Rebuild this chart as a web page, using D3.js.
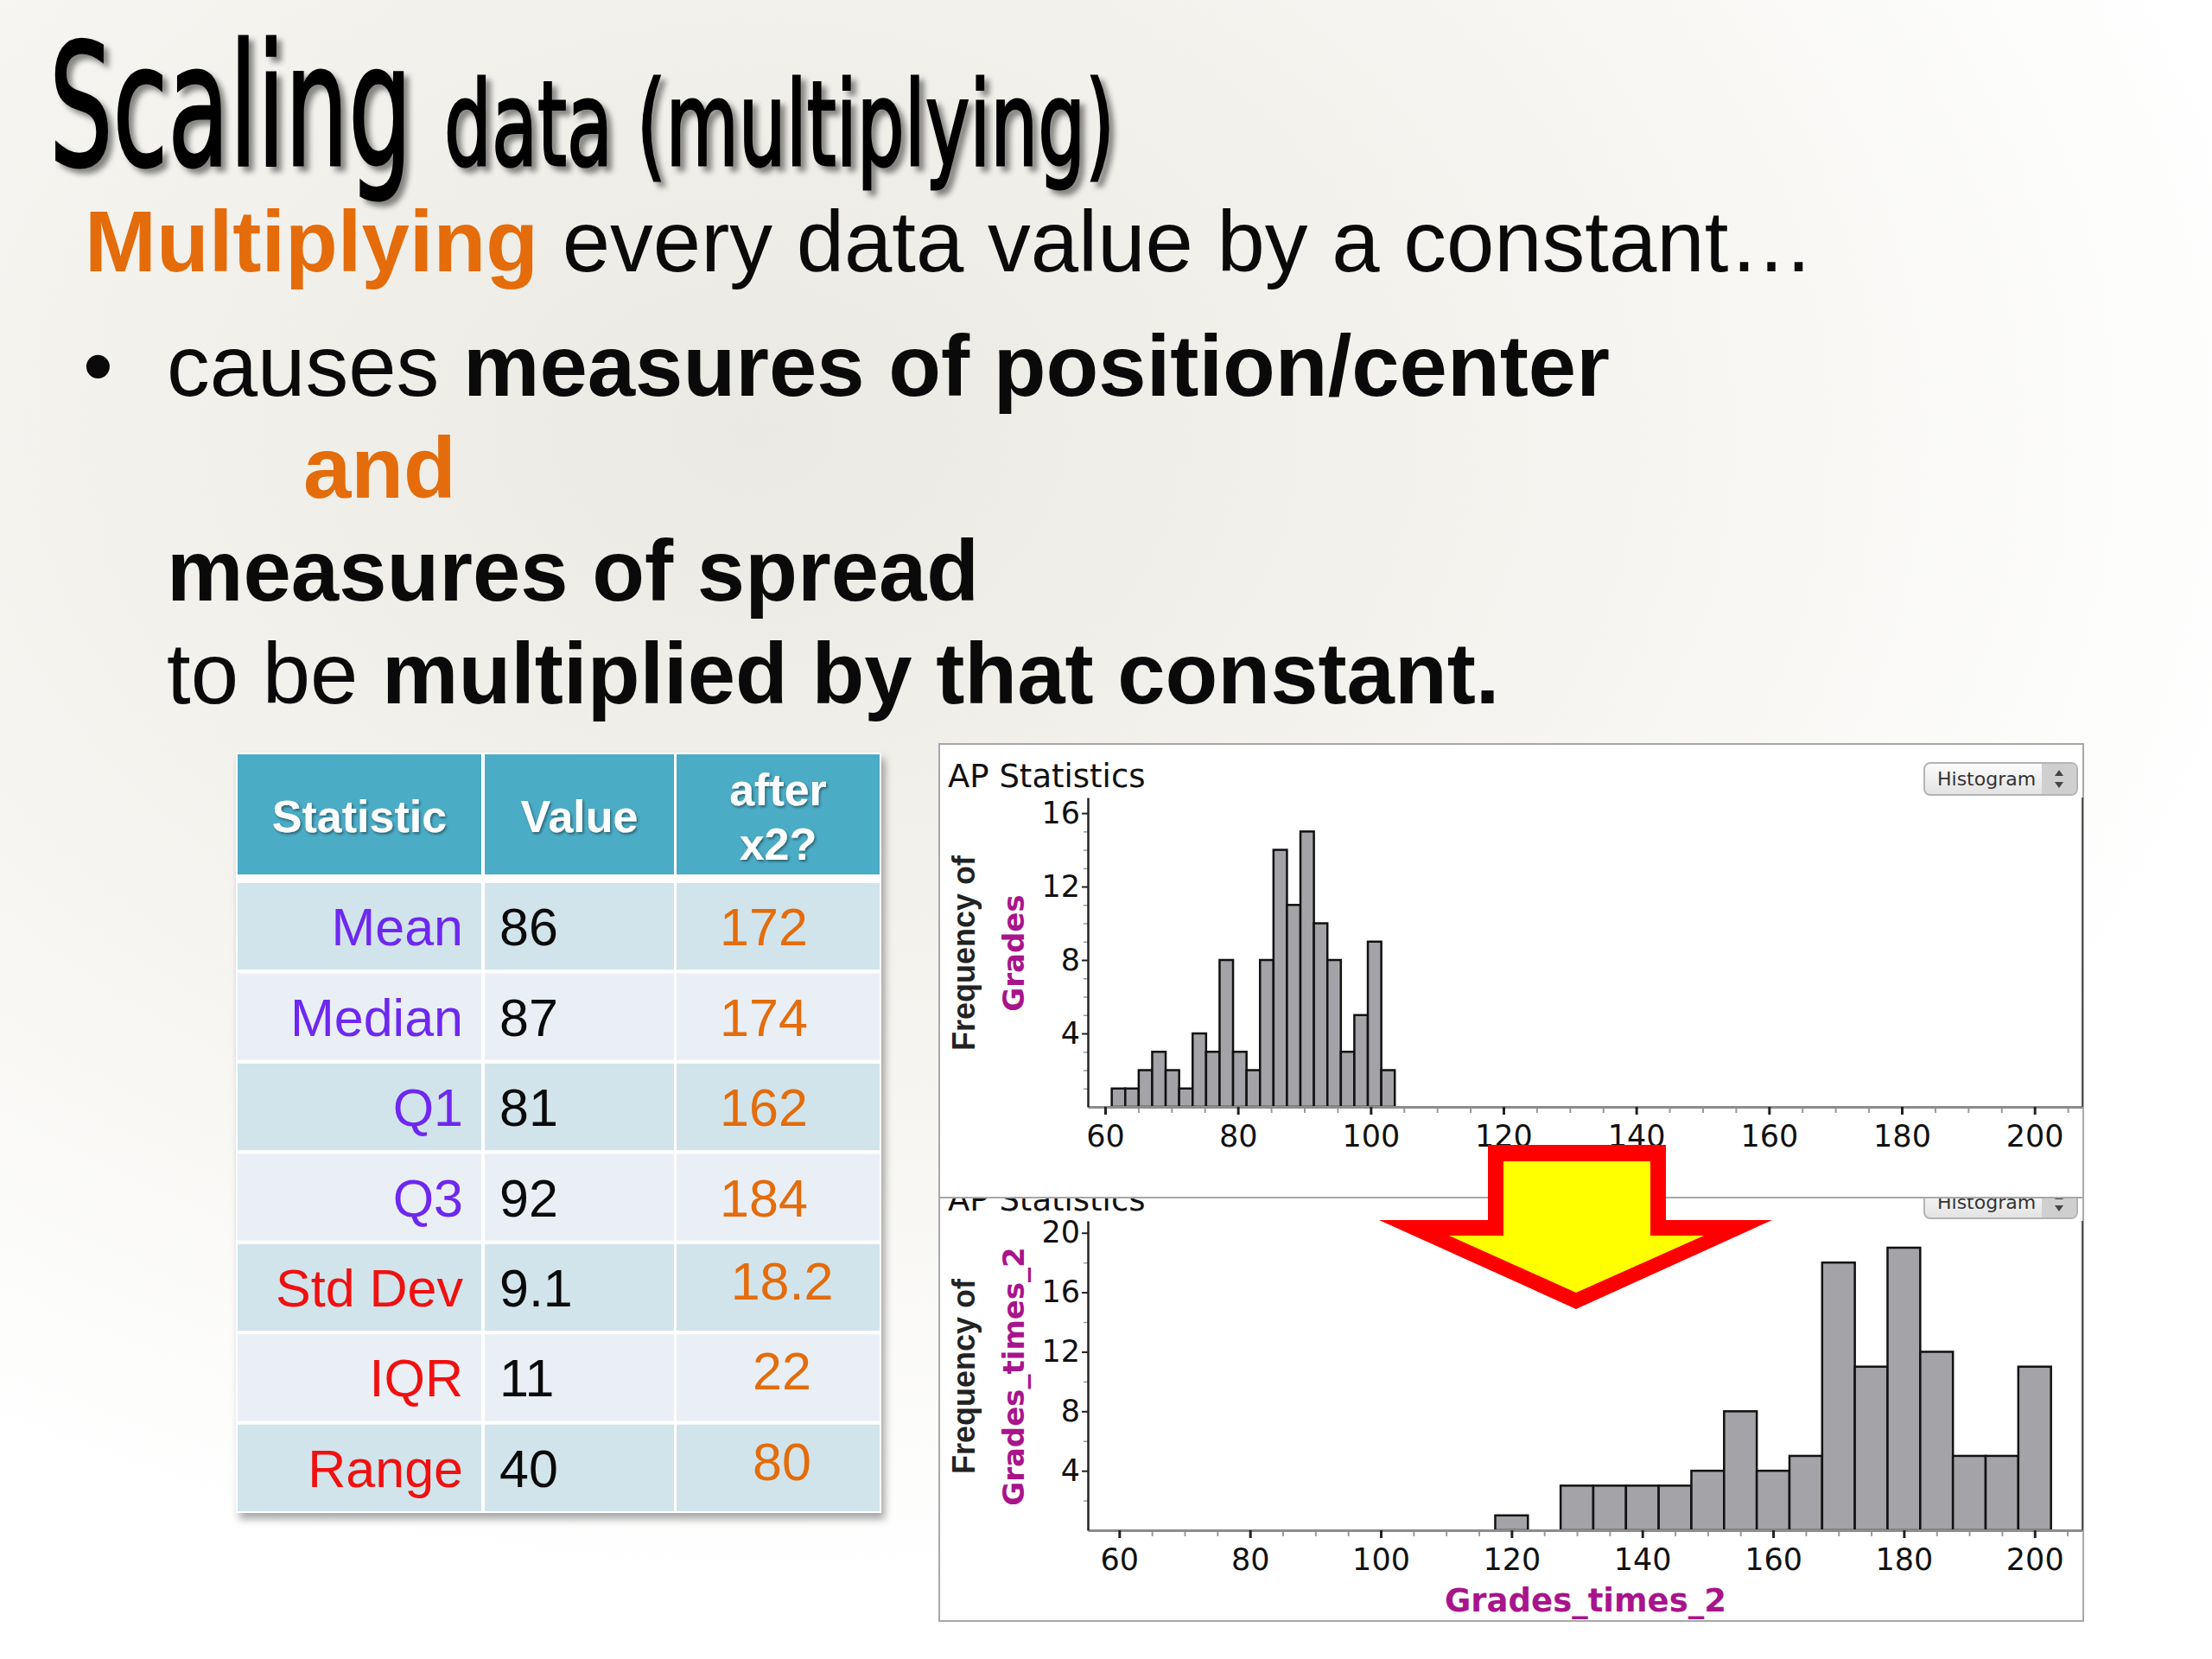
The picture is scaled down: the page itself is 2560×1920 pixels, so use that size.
<!DOCTYPE html>
<html>
<head>
<meta charset="utf-8">
<script src="https://cdn.jsdelivr.net/npm/d3@7"></script>
<style>
  body { margin: 0; background: #fff; }
  svg { display: block; }
</style>
</head>
<body>
<script>
// ----- data -----
const statNames   = ["Mean", "Median", "Q1", "Q3", "Std Dev", "IQR", "Range"];
const statKinds   = ["center", "center", "center", "center", "spread", "spread", "spread"];
const statValues  = ["86", "87", "81", "92", "9.1", "11", "40"];
const statDoubled = ["172", "174", "162", "184", "18.2", "22", "80"];
const tableHeader = ["Statistic", "Value", "after|x2?"];

// Grades histogram (bins of ~2 points starting at 61)
const gradesCounts = [1, 1, 2, 3, 2, 1, 4, 3, 8, 3, 2, 8, 14, 11, 15, 10, 8, 3, 5, 9, 2];
const gradesBinStart = 61, gradesBinWidth = 2.03;

// Grades_times_2 histogram (bins of 5 starting at 117.5)
const doubledCounts = [1, 0, 3, 3, 3, 3, 4, 8, 4, 5, 18, 11, 19, 12, 5, 5, 11];
const doubledBinStart = 117.5, doubledBinWidth = 5;

const xTickValues = [60, 80, 100, 120, 140, 160, 180, 200];
const topYTicks = [4, 8, 12, 16];
const bottomYTicks = [4, 8, 12, 16, 20];

// ----- layout -----
const W = 2560, H = 1920;
const kindColor = { center: "#6E28F0", spread: "#F01010" };
const orange = "#E46C0A";
const magenta = "#A8148C";
const sans = "'Liberation Sans', Arial, Helvetica, sans-serif";
const deja = "'DejaVu Sans', Verdana, sans-serif";
const bodySize = 99.5;

const svg = d3.select("body").append("svg")
    .attr("width", W)
    .attr("height", H);

const defs = svg.append("defs");

// slide background
const bg = defs.append("radialGradient").attr("id", "bg")
    .attr("cx", "34%").attr("cy", "26%").attr("r", "70%");
bg.append("stop").attr("offset", "0%").attr("stop-color", "#EBE9E3");
bg.append("stop").attr("offset", "55%").attr("stop-color", "#F5F4F0");
bg.append("stop").attr("offset", "100%").attr("stop-color", "#FFFFFF");

const titleShadow = defs.append("filter").attr("id", "titleShadow")
    .attr("x", "-5%").attr("y", "-10%").attr("width", "115%").attr("height", "130%");
titleShadow.append("feDropShadow")
    .attr("dx", 6).attr("dy", 6).attr("stdDeviation", 3)
    .attr("flood-color", "#000").attr("flood-opacity", 0.45);

const tableShadow = defs.append("filter").attr("id", "tableShadow")
    .attr("x", "-5%").attr("y", "-5%").attr("width", "115%").attr("height", "115%");
tableShadow.append("feDropShadow")
    .attr("dx", 4).attr("dy", 7).attr("stdDeviation", 5)
    .attr("flood-color", "#000").attr("flood-opacity", 0.35);

const headShadow = defs.append("filter").attr("id", "headShadow");
headShadow.append("feDropShadow")
    .attr("dx", 1.5).attr("dy", 2).attr("stdDeviation", 1.5)
    .attr("flood-color", "#000").attr("flood-opacity", 0.45);

const btnGrad = defs.append("linearGradient").attr("id", "btnGrad")
    .attr("x1", 0).attr("y1", 0).attr("x2", 0).attr("y2", 1);
btnGrad.append("stop").attr("offset", "0%").attr("stop-color", "#FDFDFD");
btnGrad.append("stop").attr("offset", "100%").attr("stop-color", "#E2E2E2");

svg.append("rect").attr("width", W).attr("height", H).attr("fill", "url(#bg)");

// ----- title (condensed by squeezing the glyphs horizontally) -----
const title = svg.append("g").attr("filter", "url(#titleShadow)");

function condensedText(x, y, size, width, str) {
    const t = title.append("text")
        .attr("font-family", deja)
        .attr("font-size", size)
        .attr("fill", "#050505")
        .attr("stroke", "#050505")
        .attr("stroke-width", 3)
        .text(str);
    const natural = t.node().getComputedTextLength();
    t.attr("transform", "translate(" + x + "," + y + ") scale(" + (width / natural) + ",1)");
}

condensedText(57, 191, 196, 420, "Scaling");
condensedText(514, 191, 136, 776, "data (multiplying)");

// ----- body text -----
function textLine(x, y, parts) {
    const t = svg.append("text")
        .attr("x", x).attr("y", y)
        .attr("font-family", sans)
        .attr("font-size", bodySize)
        .attr("fill", "#0A0A0A");
    parts.forEach(p => {
        t.append("tspan")
            .attr("font-weight", p.bold ? "bold" : "normal")
            .attr("fill", p.color || "#0A0A0A")
            .text(p.text);
    });
    return t;
}

textLine(98, 314, [
    { text: "Multiplying", bold: true, color: orange },
    { text: " every data value by a constant…" }
]);
svg.append("text")
    .attr("x", 96).attr("y", 458)
    .attr("font-family", sans).attr("font-size", bodySize)
    .attr("fill", "#0A0A0A")
    .text("•");
textLine(193, 458, [
    { text: "causes " },
    { text: "measures of position/center", bold: true }
]);
textLine(351, 576, [{ text: "and", bold: true, color: orange }]);
textLine(193, 695, [{ text: "measures of spread", bold: true }]);
textLine(193, 814, [
    { text: "to be " },
    { text: "multiplied by that constant.", bold: true }
]);

// ----- statistics table -----
const colX = [275, 561, 783];
const colW = [282, 219, 235];
const headerTop = 873, headerH = 139;

const rowScale = d3.scaleBand()
    .domain(statNames)
    .range([1022, 1749])
    .paddingInner(0.04);

const table = svg.append("g");
const tableBg = table.append("g").attr("filter", "url(#tableShadow)");
tableBg.append("rect")
    .attr("x", colX[0] - 2).attr("y", headerTop - 2)
    .attr("width", colX[2] + colW[2] - colX[0] + 4)
    .attr("height", 1749 - headerTop + 4)
    .attr("fill", "#FFFFFF");

// header cells
colX.forEach((x, i) => {
    tableBg.append("rect")
        .attr("x", x).attr("y", headerTop)
        .attr("width", colW[i]).attr("height", headerH)
        .attr("fill", "#4BACC6");
});

// body cells
statNames.forEach((name, r) => {
    colX.forEach((x, i) => {
        tableBg.append("rect")
            .attr("x", x).attr("y", rowScale(name))
            .attr("width", colW[i]).attr("height", rowScale.bandwidth())
            .attr("fill", r % 2 === 0 ? "#D1E4EB" : "#E9EFF5");
    });
});

// header text
const headG = table.append("g").attr("filter", "url(#headShadow)");
tableHeader.forEach((h, i) => {
    const lines = h.split("|");
    const cx = colX[i] + colW[i] / 2;
    const t = headG.append("text")
        .attr("text-anchor", "middle")
        .attr("font-family", sans).attr("font-weight", "bold")
        .attr("font-size", 52)
        .attr("fill", "#FFFFFF");
    if (lines.length === 1) {
        t.attr("x", cx).attr("y", 963).text(lines[0]);
    } else {
        lines.forEach((l, k) => {
            t.append("tspan").attr("x", cx).attr("y", 932 + k * 63).text(l);
        });
    }
});

// body text
const bodyRows = table.selectAll("g.row")
    .data(statNames)
    .enter().append("g")
    .attr("class", "row")
    .attr("transform", d => "translate(0," + (rowScale(d) + rowScale.bandwidth() / 2 + 22) + ")");

bodyRows.append("text")
    .attr("x", colX[0] + colW[0] - 21)
    .attr("text-anchor", "end")
    .attr("font-family", sans).attr("font-size", 61)
    .attr("fill", (d, i) => kindColor[statKinds[i]])
    .text(d => d);

bodyRows.append("text")
    .attr("x", colX[1] + 17)
    .attr("font-family", sans).attr("font-size", 61)
    .attr("fill", "#0A0A0A")
    .text((d, i) => statValues[i]);

bodyRows.append("text")
    .attr("x", (d, i) => statKinds[i] === "spread" ? 905 : 884)
    .attr("y", (d, i) => statKinds[i] === "spread" ? -8 : 0)
    .attr("text-anchor", "middle")
    .attr("font-family", sans).attr("font-size", 61)
    .attr("fill", orange)
    .text((d, i) => statDoubled[i]);

// ----- histogram panels -----
const panelLeft = 1087, panelRight = 2411, panelH = 525;
const plotLeft = 1259, plotRight = 2410;

function drawPanel(top, counts, binStart, binWidth, xDomain, yMax, yTicks, yMinorStep, varName) {
    const g = svg.append("g");
    const plotTop = top + 62, plotBottom = top + 420;

    g.append("rect")
        .attr("x", panelLeft).attr("y", top)
        .attr("width", panelRight - panelLeft).attr("height", panelH)
        .attr("fill", "#FFFFFF")
        .attr("stroke", "#A8A8A8").attr("stroke-width", 2);

    g.append("text")
        .attr("x", 1097).attr("y", top + 50)
        .attr("font-family", deja).attr("font-size", 37)
        .attr("fill", "#111")
        .text("AP Statistics");

    // "Histogram" selector
    const btn = g.append("g").attr("transform", "translate(2227," + (top + 22) + ")");
    btn.append("rect")
        .attr("width", 177).attr("height", 37).attr("rx", 7)
        .attr("fill", "url(#btnGrad)")
        .attr("stroke", "#B4B4B4").attr("stroke-width", 2);
    btn.append("path")
        .attr("d", "M136,1 H170 Q176,1 176,8 V29 Q176,36 170,36 H136 Z")
        .attr("fill", "#CFCFCF");
    btn.append("text")
        .attr("x", 15).attr("y", 26)
        .attr("font-family", deja).attr("font-size", 22)
        .attr("fill", "#333")
        .text("Histogram");
    btn.append("path")
        .attr("d", "M151,15 L156,8 L161,15 Z M151,22 L156,29 L161,22 Z")
        .attr("fill", "#444");

    const x = d3.scaleLinear().domain(xDomain).range([plotLeft, plotRight]);
    const y = d3.scaleLinear().domain([0, yMax]).range([plotBottom, plotTop]);

    // minor ticks
    const xMinor = d3.range(60, xDomain[1], 5).filter(v => xTickValues.indexOf(v) < 0);
    g.append("g")
        .attr("transform", "translate(0," + plotBottom + ")")
        .call(d3.axisBottom(x).tickValues(xMinor).tickSize(7).tickFormat(""))
        .call(a => a.select(".domain").remove())
        .call(a => a.selectAll("line").attr("stroke", "#9A9A9A").attr("stroke-width", 2));

    const yMinor = d3.range(yMinorStep, yMax, yMinorStep).filter(v => yTicks.indexOf(v) < 0);
    g.append("g")
        .attr("transform", "translate(" + plotLeft + ",0)")
        .call(d3.axisLeft(y).tickValues(yMinor).tickSize(5).tickFormat(""))
        .call(a => a.select(".domain").remove())
        .call(a => a.selectAll("line").attr("stroke", "#9A9A9A").attr("stroke-width", 1.5));

    // bars
    const bins = counts.map((c, i) => ({
        x0: binStart + i * binWidth,
        x1: binStart + (i + 1) * binWidth,
        count: c
    })).filter(b => b.count > 0);

    g.selectAll("rect.bar")
        .data(bins)
        .enter().append("rect")
        .attr("class", "bar")
        .attr("x", d => x(d.x0))
        .attr("y", d => y(d.count))
        .attr("width", d => x(d.x1) - x(d.x0))
        .attr("height", d => y(0) - y(d.count))
        .attr("fill", "#A3A3A8")
        .attr("stroke", "#111")
        .attr("stroke-width", 2.5);

    // x axis
    g.append("g")
        .attr("transform", "translate(0," + plotBottom + ")")
        .call(d3.axisBottom(x).tickValues(xTickValues).tickSize(9).tickSizeOuter(0).tickPadding(12))
        .call(a => a.select(".domain").attr("stroke", "#8C8C8C").attr("stroke-width", 3))
        .call(a => a.selectAll(".tick line").attr("stroke", "#222").attr("stroke-width", 3))
        .call(a => a.selectAll("text")
            .attr("font-family", deja).attr("font-size", 35).attr("fill", "#111"));

    // y axis
    g.append("g")
        .attr("transform", "translate(" + plotLeft + ",0)")
        .call(d3.axisLeft(y).tickValues(yTicks).tickSize(7).tickSizeOuter(0).tickPadding(2))
        .call(a => a.select(".domain").attr("stroke", "#222").attr("stroke-width", 2.5))
        .call(a => a.selectAll(".tick line").attr("stroke", "#222").attr("stroke-width", 2))
        .call(a => a.selectAll("text")
            .attr("font-family", deja).attr("font-size", 35).attr("fill", "#111"));

    // right frame line
    g.append("line")
        .attr("x1", plotRight).attr("x2", plotRight)
        .attr("y1", plotTop).attr("y2", plotBottom)
        .attr("stroke", "#555").attr("stroke-width", 2);

    // axis titles
    const cy = top + 242;
    g.append("text")
        .attr("transform", "translate(1128," + cy + ") rotate(-90)")
        .attr("text-anchor", "middle")
        .attr("font-family", sans).attr("font-weight", "bold").attr("font-size", 36)
        .attr("fill", "#222")
        .text("Frequency of");
    g.append("text")
        .attr("transform", "translate(1185," + cy + ") rotate(-90)")
        .attr("text-anchor", "middle")
        .attr("font-family", deja).attr("font-weight", "bold").attr("font-size", 34)
        .attr("fill", magenta)
        .text(varName);
    g.append("text")
        .attr("x", 1835).attr("y", top + 514)
        .attr("text-anchor", "middle")
        .attr("font-family", deja).attr("font-weight", "bold").attr("font-size", 37)
        .attr("fill", magenta)
        .text(varName);
}

// bottom panel first, the top one overlaps it
drawPanel(1351, doubledCounts, doubledBinStart, doubledBinWidth, [55.2, 207.3], 20.8, bottomYTicks, 2, "Grades_times_2");
drawPanel(861, gradesCounts, gradesBinStart, gradesBinWidth, [57.4, 207.2], 16.85, topYTicks, 1, "Grades");

// ----- big down arrow -----
const arrowOuter = [[1722, 1325], [1928, 1325], [1928, 1412], [2051, 1412], [1824, 1515], [1596, 1412], [1722, 1412]];
const arrowInner = [[1740, 1344], [1910, 1344], [1910, 1430], [1972, 1430], [1824, 1496], [1677, 1430], [1740, 1430]];
const arrowLine = d3.line().curve(d3.curveLinearClosed);
svg.append("path").attr("d", arrowLine(arrowOuter)).attr("fill", "#FF0000");
svg.append("path").attr("d", arrowLine(arrowInner)).attr("fill", "#FFFF00");
</script>
</body>
</html>
